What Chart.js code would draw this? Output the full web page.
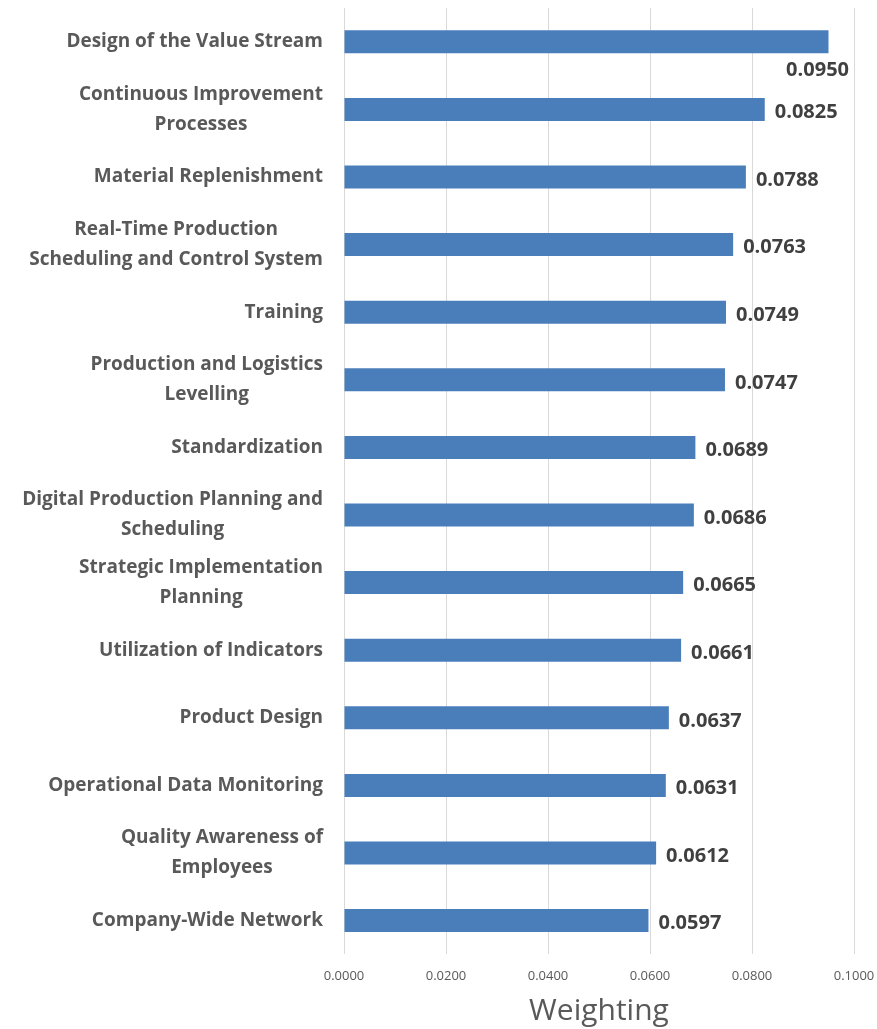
<!DOCTYPE html>
<html>
<head>
<meta charset="utf-8">
<title>Weighting</title>
<script src="https://cdn.jsdelivr.net/npm/chart.js@4.4.1/dist/chart.umd.min.js"></script>
<style>
    html, body { margin: 0; padding: 0; background: #fff; }
    #wrap { width: 877px; height: 1029px; position: relative; }
</style>
</head>
<body>
<div id="wrap"><canvas id="weighting-chart"></canvas></div>
<script>
// categories (multi-line labels are arrays of lines)
const categories = [
    ['Design of the Value Stream'],
    ['Continuous Improvement', 'Processes'],
    ['Material Replenishment'],
    ['Real-Time Production', 'Scheduling and Control System'],
    ['Training'],
    ['Production and Logistics', 'Levelling'],
    ['Standardization'],
    ['Digital Production Planning and', 'Scheduling'],
    ['Strategic Implementation', 'Planning'],
    ['Utilization of Indicators'],
    ['Product Design'],
    ['Operational Data Monitoring'],
    ['Quality Awareness of', 'Employees'],
    ['Company-Wide Network']
];
const weights = [0.0950, 0.0825, 0.0788, 0.0763, 0.0749, 0.0747, 0.0689, 0.0686, 0.0665, 0.0661, 0.0637, 0.0631, 0.0612, 0.0597];
const xTicks = [0, 0.02, 0.04, 0.06, 0.08, 0.1];
const axisTitle = 'Weighting';

const FONT = "'Open Sans', 'DejaVu Sans', sans-serif";

// category labels: block right-aligned to the axis, lines centred inside the block
const categoryLabels = {
    id: 'categoryLabels',
    afterDraw(chart) {
        const ctx = chart.ctx;
        const yScale = chart.scales.y;
        const right = chart.chartArea.left - 21;
        const lineH = 30;
        ctx.save();
        ctx.font = 'bold 19px ' + FONT;
        ctx.fillStyle = '#595959';
        ctx.textAlign = 'center';
        ctx.textBaseline = 'middle';
        categories.forEach((lines, i) => {
            const yc = yScale.getPixelForValue(i);
            const w = Math.max(...lines.map(l => ctx.measureText(l).width));
            const cx = right - w / 2;
            const y0 = yc - (lines.length - 1) * lineH / 2;
            lines.forEach((l, j) => ctx.fillText(l, cx, y0 + j * lineH));
        });
        ctx.restore();
    }
};

// value labels at the bar ends
const valueLabels = {
    id: 'valueLabels',
    afterDatasetsDraw(chart) {
        const ctx = chart.ctx;
        const meta = chart.getDatasetMeta(0);
        ctx.save();
        ctx.font = 'bold 20px ' + FONT;
        ctx.fillStyle = '#404040';
        ctx.textBaseline = 'middle';
        meta.data.forEach((bar, i) => {
            const txt = weights[i].toFixed(4);
            const w = ctx.measureText(txt).width;
            if (bar.x + 10 + w > chart.width - 6) {
                // no room on the right: drop it below the bar end
                ctx.textAlign = 'right';
                ctx.fillText(txt, chart.chartArea.right - 5, bar.y + 28);
            } else {
                ctx.textAlign = 'left';
                ctx.fillText(txt, bar.x + 10, bar.y + 3);
            }
        });
        ctx.restore();
    }
};

new Chart(document.getElementById('weighting-chart'), {
    type: 'bar',
    data: {
        labels: categories.map(c => c.join(' ')),
        datasets: [{
            label: axisTitle,
            data: weights,
            backgroundColor: '#4a7ebb',
            borderWidth: 0,
            barPercentage: 0.34,
            categoryPercentage: 1
        }]
    },
    options: {
        indexAxis: 'y',
        responsive: true,
        maintainAspectRatio: false,
        animation: false,
        layout: {
            padding: { left: 344, right: 23, top: 8, bottom: 0 }
        },
        plugins: {
            legend: { display: false },
            tooltip: { enabled: false }
        },
        scales: {
            x: {
                min: 0,
                max: 0.1,
                afterBuildTicks: (scale) => {
                    scale.ticks = xTicks.map(v => ({ value: v }));
                },
                afterFit: (scale) => {
                    // tick labels fit inside the layout padding already
                    scale.paddingLeft = 0;
                    scale.paddingRight = 0;
                },
                grid: { color: '#d9d9d9', drawTicks: false },
                border: { display: false },
                ticks: {
                    padding: 14,
                    color: '#595959',
                    font: { family: FONT, size: 13 },
                    callback: (v) => Number(v).toFixed(4)
                },
                title: {
                    display: true,
                    text: axisTitle,
                    color: '#595959',
                    font: { family: FONT, size: 30 },
                    padding: { top: -5, bottom: 0 }
                }
            },
            y: {
                display: false
            }
        }
    },
    plugins: [categoryLabels, valueLabels]
});
</script>
</body>
</html>
